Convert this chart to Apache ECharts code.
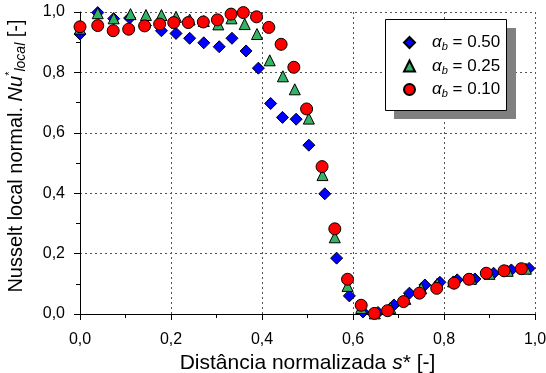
<!DOCTYPE html>
<html>
<head>
<meta charset="utf-8">
<script src="https://cdn.jsdelivr.net/npm/echarts@6/dist/echarts.min.js"></script>
<style>html,body{margin:0;padding:0;background:#fff}#c{width:546px;height:373px}</style>
</head>
<body>
<div id="c"></div>
<script>
// alpha_b = 0.50 (blue diamonds)
const sA50 = [0.0,0.039,0.074,0.109,0.144,0.179,0.211,0.241,0.272,0.306,0.334,0.365,0.392,0.419,0.445,0.475,0.503,0.538,0.564,0.592,0.622,0.655,0.690,0.724,0.758,0.791,0.829,0.868,0.909,0.948,0.987];
const nuA50 = [0.927,0.998,0.978,0.980,0.955,0.938,0.929,0.913,0.898,0.885,0.913,0.871,0.814,0.697,0.651,0.645,0.559,0.398,0.185,0.060,0.007,0.005,0.030,0.069,0.096,0.105,0.113,0.116,0.135,0.146,0.151];
// alpha_b = 0.25 (green triangles)
const sA25 = [0.0,0.039,0.074,0.111,0.145,0.179,0.211,0.241,0.272,0.304,0.333,0.362,0.389,0.417,0.446,0.472,0.503,0.533,0.560,0.588,0.618,0.648,0.682,0.715,0.750,0.785,0.820,0.860,0.900,0.940,0.980];
const nuA25 = [0.945,0.996,0.979,0.993,0.990,0.990,0.984,0.975,0.970,0.959,0.979,0.960,0.927,0.840,0.787,0.744,0.647,0.460,0.254,0.093,0.020,0.002,0.020,0.050,0.085,0.100,0.108,0.117,0.133,0.143,0.150];
// alpha_b = 0.10 (red circles)
const sA10 = [0.0,0.039,0.073,0.107,0.142,0.175,0.206,0.238,0.271,0.302,0.332,0.359,0.388,0.415,0.442,0.470,0.498,0.532,0.560,0.588,0.618,0.647,0.676,0.711,0.746,0.784,0.822,0.855,0.893,0.932,0.970];
const nuA10 = [0.951,0.955,0.938,0.943,0.954,0.960,0.965,0.965,0.967,0.974,0.993,0.998,0.984,0.949,0.893,0.817,0.679,0.488,0.282,0.115,0.029,0.002,0.011,0.041,0.069,0.085,0.102,0.115,0.135,0.143,0.150];
const seriesNames = ['0.50','0.25','0.10'];

function pairs(xs, ys){ return xs.map((x,i)=>[x, ys[i]]); }
const fmt = v => v.toFixed(1).replace('.', ',');
const FONT = '"Liberation Sans", Arial, sans-serif';
const chart = echarts.init(document.getElementById('c'), null, {renderer:'canvas'});
const gridLine = {show:true, lineStyle:{color:'#555', width:1, type:[2,3]}};
chart.setOption({
  animation:false,
  backgroundColor:'#fff',
  grid:{left:80, right:11, top:12, bottom:59, containLabel:false, outerBoundsMode:'none'},
  xAxis:{
    type:'value', min:0, max:1, interval:0.2,
    axisLine:{show:true, onZero:false, lineStyle:{color:'#000', width:1}},
    axisTick:{show:true, length:6, lineStyle:{color:'#000'}},
    minorTick:{show:true, splitNumber:2, length:4, lineStyle:{color:'#000'}},
    splitLine:gridLine,
    axisLabel:{formatter:fmt, color:'#000', fontSize:16, fontFamily:FONT, margin:18},
    name:'{n|Distância normalizada }{i|s}{n|* [-]}',
    nameLocation:'middle', nameGap:39,
    nameTextStyle:{color:'#000', fontFamily:FONT, rich:{
      n:{fontSize:21, fontFamily:FONT, color:'#000'},
      i:{fontSize:21, fontFamily:FONT, fontStyle:'italic', color:'#000'}}}
  },
  yAxis:{
    type:'value', min:0, max:1, interval:0.2,
    axisLine:{show:true, onZero:false, lineStyle:{color:'#000', width:1}},
    axisTick:{show:true, length:6, lineStyle:{color:'#000'}},
    minorTick:{show:true, splitNumber:2, length:4, lineStyle:{color:'#000'}},
    splitLine:gridLine,
    axisLabel:{formatter:fmt, color:'#000', fontSize:16, fontFamily:FONT, margin:15},
    name:'{n|Nusselt local normal. }{i|Nu}{sp|*}{sb|local}{n| [-]}',
    nameLocation:'middle', nameGap:52,
    nameTextStyle:{color:'#000', fontFamily:FONT, padding:[0,0,0,14], rich:{
      n:{fontSize:20, fontFamily:FONT, color:'#000', lineHeight:24, verticalAlign:'middle'},
      i:{fontSize:20, fontFamily:FONT, fontStyle:'italic', color:'#000', lineHeight:24, verticalAlign:'middle'},
      sp:{fontSize:11, fontFamily:FONT, color:'#000', lineHeight:14, verticalAlign:'top'},
      sb:{fontSize:14, fontFamily:FONT, fontStyle:'italic', color:'#000', lineHeight:12, verticalAlign:'bottom'}}}
  },
  legend:{
    orient:'vertical', left:398, top:29, itemWidth:11, itemHeight:11, itemGap:5,
    data:seriesNames,
    formatter: n => '{a|α}{b|b}{t| = ' + n + '}',
    textStyle:{color:'#000', fontFamily:FONT, padding:[0,0,0,12], rich:{
      a:{fontSize:17, fontFamily:FONT, fontStyle:'italic', color:'#000', lineHeight:20, verticalAlign:'middle'},
      b:{fontSize:11, fontFamily:FONT, fontStyle:'italic', color:'#000', lineHeight:8, verticalAlign:'bottom'},
      t:{fontSize:17, fontFamily:FONT, color:'#000', lineHeight:20, verticalAlign:'middle'}}}
  },
  graphic:[
    {type:'rect', z:3, shape:{x:394, y:28, width:122, height:91}, style:{fill:'#808080'}, silent:true},
    {type:'rect', z:3, shape:{x:385.5, y:19.5, width:121, height:91}, style:{fill:'#fff', stroke:'#000', lineWidth:1}, silent:true}
  ],
  series:[
    {name:'0.50', type:'scatter', symbol:'diamond', symbolSize:12, z:5, data:pairs(sA50,nuA50),
     itemStyle:{color:'#0000ff', borderColor:'#000', borderWidth:1, opacity:1}},
    {name:'0.25', type:'scatter', symbol:'triangle', symbolSize:11, z:6, data:pairs(sA25,nuA25),
     itemStyle:{color:'#33b366', borderColor:'#000', borderWidth:1, opacity:1}},
    {name:'0.10', type:'scatter', symbol:'circle', symbolSize:12, z:7, data:pairs(sA10,nuA10),
     itemStyle:{color:'#ff0000', borderColor:'#000', borderWidth:1, opacity:1}}
  ]
});
</script>
</body>
</html>
